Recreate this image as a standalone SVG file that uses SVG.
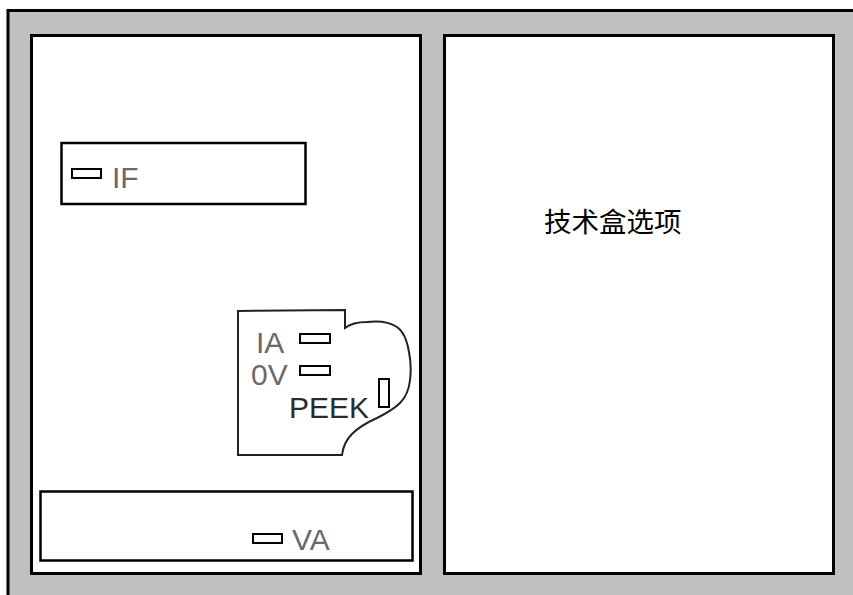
<svg xmlns="http://www.w3.org/2000/svg" width="853" height="595" viewBox="0 0 853 595">
<style>
.frame{fill:#c0c0c0;stroke:#000;stroke-width:3}
.panel{fill:#fff;stroke:#000;stroke-width:3}
.box{fill:#fff;stroke:#000;stroke-width:2.5}
.led{fill:#fff;stroke:#000;stroke-width:2}
.lbl{font-family:"Liberation Sans",Arial,sans-serif;font-size:30px;fill:#6a6a6a}
.dark{fill:#2a2a2a}
.cjk{font-family:"Noto Sans CJK SC","Noto Sans CJK JP",sans-serif;font-size:27.5px;fill:#000}
</style>
<rect id="outer" class="frame" x="8" y="10.5" width="860" height="600"/>
<g id="left-panel">
<rect class="panel" x="31.5" y="35.5" width="389" height="538"/>
</g>
<g id="right-panel">
<rect class="panel" x="444.5" y="35.5" width="389" height="538"/>
<text class="cjk" x="544" y="232">技术盒选项</text>
</g>
<g id="if-box">
<rect class="box" x="61.5" y="143" width="244" height="61"/>
<rect class="led" x="72" y="169" width="29" height="9"/>
<text class="lbl" x="112" y="188">IF</text>
</g>
<g id="peek-card">
<path d="M238,311 L345,310 L345,328 C350,324 358,322 367,322 C375,321 388,321 397,327 C403,331 407,340 409,352 C411,362 411,372 410,380 C409,390 405,398 400,403 C394,409 385,414 377,418 C368,422 360,426 352,434 C346,440 343,447 342,455 L238,455 Z" fill="#fff" stroke="#222" stroke-width="2"/>
<text class="lbl" x="256" y="353">IA</text>
<rect class="led" x="300" y="334" width="30" height="9"/>
<text class="lbl" x="251" y="385">0V</text>
<rect class="led" x="300" y="366" width="30" height="9"/>
<text class="lbl dark" x="289" y="418">PEEK</text>
<rect class="led" x="379" y="379" width="10" height="28"/>
</g>
<g id="va-box">
<rect class="box" x="40.5" y="491.5" width="372" height="69"/>
<rect class="led" x="253" y="534" width="29" height="9"/>
<text class="lbl" x="292" y="550">VA</text>
</g>
<g id="connectors"></g>
</svg>
